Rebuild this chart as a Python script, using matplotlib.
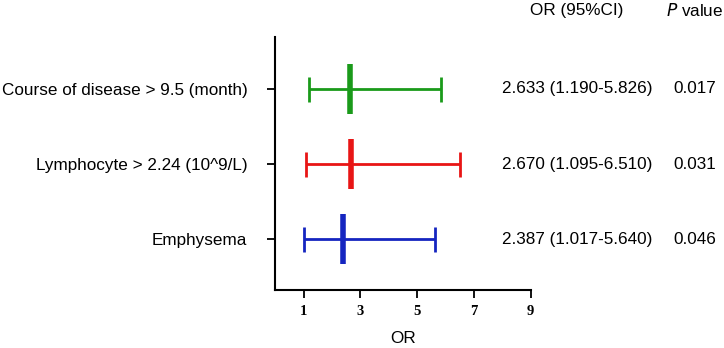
import matplotlib.pyplot as plt

# forest plot data (top to bottom)
labels = ['Course of disease > 9.5 (month)', 'Lymphocyte > 2.24 (10^9/L)', 'Emphysema']
odds = [2.633, 2.670, 2.387]
lower = [1.190, 1.095, 1.017]
upper = [5.826, 6.510, 5.640]
pvals = ['0.017', '0.031', '0.046']
colors = ['#1a9a1a', '#e81515', '#1525c0']
xticks = [1, 3, 5, 7, 9]

plt.rcParams['font.family'] = ['Liberation Sans', 'DejaVu Sans']
fs = 12.3

fig = plt.figure(figsize=(7.24, 3.48), dpi=100)
ax = fig.add_axes([0.380, 0.167, 0.353, 0.727])

ypos = [3, 2, 1]
for i in range(len(labels)):
    ax.errorbar(odds[i], ypos[i], xerr=[[odds[i]-lower[i]], [upper[i]-odds[i]]],
                fmt='none', ecolor=colors[i], elinewidth=2, capsize=9, capthick=2)
    ax.plot(odds[i], ypos[i], marker='|', color=colors[i], markersize=36, markeredgewidth=4)

ax.set_xlim(0, 9)
ax.set_ylim(0.33, 3.69)
ax.set_xticks(xticks)
ax.set_xticklabels([str(t) for t in xticks], fontfamily='Liberation Serif', fontweight='bold', fontsize=10.5)
ax.set_yticks(ypos)
ax.set_yticklabels(labels, fontsize=fs)
ax.tick_params(axis='y', length=6, width=1.3, pad=14)
ax.tick_params(axis='x', length=6, width=1.3, pad=5)
ax.spines['top'].set_visible(False)
ax.spines['right'].set_visible(False)
ax.spines['left'].set_linewidth(1.5)
ax.spines['bottom'].set_linewidth(1.5)
ax.set_xlabel('OR', fontsize=fs, labelpad=9)

# right side columns
fig.text(0.797, 0.971, 'OR (95%CI)', ha='center', va='center', fontsize=fs)
fig.text(0.960, 0.971, r'$\it{P}$ value', ha='center', va='center', fontsize=fs)
for i in range(len(labels)):
    ytxt = ax.transData.transform((0, ypos[i]))[1] / fig.bbox.height
    fig.text(0.797, ytxt, '%.3f (%.3f-%.3f)' % (odds[i], lower[i], upper[i]), ha='center', va='center', fontsize=fs)
    fig.text(0.960, ytxt, pvals[i], ha='center', va='center', fontsize=fs)

fig.savefig('out.png', dpi=100)
